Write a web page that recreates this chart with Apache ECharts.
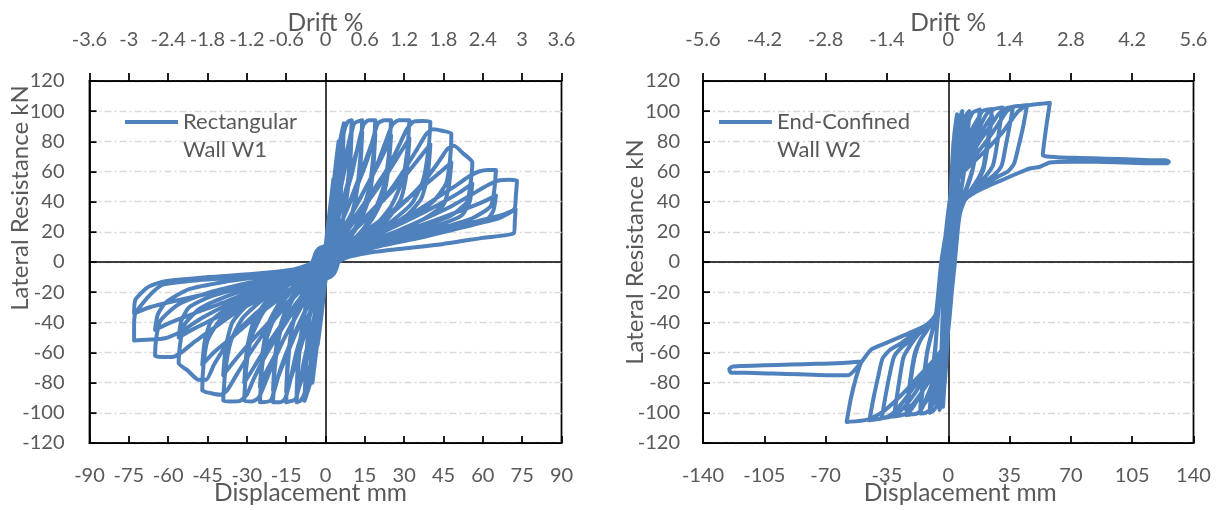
<!DOCTYPE html>
<html><head><meta charset="utf-8">
<script src="https://cdn.jsdelivr.net/npm/echarts@6/dist/echarts.min.js"></script>
<style>html,body{margin:0;padding:0;background:#fff}#c{width:1220px;height:510px}</style>
</head><body><div id="c"></div>
<script>
// ---- axis ranges / tick steps ----
const forceRange = [-120, 120, 20];
const dispRangeW1 = [-90, 90, 15];
const driftRangeW1 = [-3.6, 3.6, 0.6];
const dispRangeW2 = [-140, 140, 35];
const driftRangeW2 = [-5.6, 5.6, 1.4];
const seriesNames = ['Rectangular Wall W1', 'End-Confined Wall W2'];
const legendLabels = ['\nRectangular\nWall W1', '\nEnd-Confined\nWall W2'];

// ---- W1 hysteresis: [displacement mm, lateral resistance kN] ----
const w1Curve = [
[0,0],[0.7,15],[1.5,30],[1.3,18],[0.8,4],[0.5,0],[-0.2,-12],[-0.8,-22],[-1.5,-30],[-1.3,-18],[-0.8,-4],[-0.5,0],
[0,10],[1,25],[2,40],[3,55],[2.7,35],[2,15],[1.2,2],[0.8,0],[0,-12],[-1,-27],[-2,-42],[-3,-55],[-2.7,-35],[-2,-15],[-1.2,-2],[-0.8,0],
[0.3,8],[1.5,28],[3,50],[4,66],[5,80],[4.6,55],[3.8,30],[2.5,10],[1.3,0],[0.2,-10],[-1,-24],[-2.5,-45],[-4,-66],[-5,-80],[-4.6,-55],[-3.8,-30],[-2.5,-10],[-1.3,0],
[0,8],[1.5,25],[3,45],[4.5,66],[5.5,80],[7,92],[6.6,70],[5.8,45],[4.5,22],[3,8],[1.5,0],[0,-10],[-1.5,-25],[-3.2,-45],[-4.8,-66],[-5.8,-80],[-8,-92],[-7.5,-70],[-6.6,-45],[-5,-22],[-3.2,-7],[-1.5,0],
[0,8],[2,25],[4,48],[5.5,68],[7,86],[8.5,93],[10,94],[9.5,75],[8.5,52],[7,32],[5,15],[3,5],[1.5,0],[0,-8],[-2,-25],[-4,-48],[-6,-70],[-8,-87],[-9.5,-92],[-11,-93],[-10.5,-72],[-9.3,-50],[-7.5,-30],[-5,-14],[-3,-4],[-1.5,0],
[0,6],[2,20],[4.5,42],[7,65],[9,80],[10,88],[9.5,68],[8.3,45],[6.5,26],[4.5,12],[2.5,3],[1.2,0],[0,-7],[-2,-20],[-4.5,-42],[-7,-64],[-9.5,-80],[-11,-88],[-10.5,-66],[-9,-44],[-7,-25],[-4.5,-11],[-2.5,-3],[-1.2,0],
[0,7],[2.5,22],[5,42],[7.5,63],[9.5,82],[11,92],[14,94],[13.4,72],[12,48],[9.5,28],[6.5,14],[3.5,5],[1.5,0],[0,-7],[-2.5,-22],[-5,-42],[-8,-64],[-10,-82],[-11.5,-91],[-15,-93],[-14.4,-70],[-13,-46],[-10,-27],[-6.5,-13],[-3.5,-4],[-1.5,0],
[0,5],[3,18],[6,36],[9,56],[12,74],[14,86],[13.3,64],[11.5,42],[9,25],[6,12],[3,4],[1.3,0],[0,-6],[-3,-18],[-6,-36],[-9.5,-57],[-13,-76],[-15,-86],[-14.3,-63],[-12.5,-41],[-9.5,-24],[-6,-11],[-3,-3],[-1.3,0],
[0,7],[3,20],[6.5,38],[10,58],[12.5,78],[14.5,91],[16.5,94],[19,94],[18.3,72],[16.8,50],[13.5,31],[9.5,17],[5,7],[1.8,0],[0,-7],[-3,-20],[-7,-38],[-11,-59],[-13.5,-79],[-15.5,-91],[-17.5,-93],[-20,-93],[-19.3,-70],[-17.5,-48],[-14,-30],[-9.5,-16],[-5,-6],[-1.8,0],
[0,5],[3.5,16],[7.5,32],[11.5,50],[15,66],[19,85],[18.2,62],[16.5,42],[13,26],[8.5,14],[4.5,5],[1.5,0],[0,-5],[-3.5,-16],[-7.5,-32],[-12,-50],[-16,-67],[-20,-85],[-19.2,-62],[-17,-41],[-13.5,-25],[-8.5,-13],[-4.5,-4],[-1.5,0],
[-1,7],[4,19],[8,34],[12,50],[16,68],[18.5,84],[20,92],[22.5,94],[25,94],[24.2,72],[22.5,52],[19,35],[14,21],[8,10],[5,4],[3,0],[1,-8],[-4,-19],[-8.5,-35],[-13,-52],[-17,-70],[-19.5,-85],[-21,-92],[-25,-93],[-24.2,-70],[-22.3,-50],[-18.5,-33],[-13.5,-20],[-8,-10],[-5,-4],[-3,0],
[-1,7],[4.5,16],[9,29],[14,45],[19,61],[23,75],[25,84],[24,62],[22,43],[18,29],[12.5,17],[7,8],[4.5,3],[3,0],[1,-8],[-4.5,-16],[-9,-29],[-14,-45],[-19,-61],[-23,-74],[-25,-83],[-24,-60],[-21.8,-41],[-17.5,-27],[-12,-16],[-6.5,-7],[-4.5,-3],[-3,0],
[-1,8],[5,18],[10,32],[15,48],[19.5,64],[23,80],[25.5,91],[28,94],[32,94],[31.2,74],[29.3,54],[25,37],[19,24],[12,13],[6,5],[3.5,0],[1.5,-8],[-5,-18],[-10,-32],[-15,-48],[-19.5,-65],[-23,-80],[-25.5,-90],[-28,-92.5],[-31,-92],[-30.2,-70],[-28.3,-50],[-24,-34],[-18,-21],[-11,-11],[-6,-5],[-3.5,0],
[-1.5,8],[5.5,15],[11,27],[17,42],[23,57],[28,71],[32,82],[31,60],[28.8,42],[24,29],[17,18],[10,10],[5.5,4],[3.5,0],[1.5,-8],[-5.5,-15],[-11,-27],[-17,-42],[-22.5,-56],[-27,-69],[-31,-80],[-30,-58],[-27.5,-40],[-23,-27],[-16,-17],[-9,-8],[-5.5,-4],[-3.5,0],
[-1.5,8],[6,18],[12,32],[18,47],[24,63],[28,77],[31,88],[33.5,93],[37,93.5],[40,93],[39.2,74],[37.2,54],[33,39],[26,28],[18,18],[10,10],[6,5],[4,0],[2,-9],[-6,-18],[-12,-32],[-18,-48],[-23.5,-64],[-27.5,-78],[-30,-88],[-32.5,-92],[-36,-92.5],[-39,-92],[-38.2,-72],[-36,-52],[-31.5,-37],[-24,-25],[-16,-16],[-8,-9],[-5.5,-4],[-4,0],
[-2,9],[7,15],[14,26],[21,39],[28,52],[34,65],[40,78],[39,58],[36.5,42],[31,31],[23,22],[14,13],[7,6],[4,0],[2,-9],[-7,-15],[-14,-26],[-21,-39],[-28,-52],[-34,-64],[-39,-75],[-38,-56],[-35.5,-40],[-30,-29],[-21,-19],[-12,-11],[-6,-5],[-4,0],
[-2,9],[8,17],[16,31],[24,46],[30,61],[35,75],[38.5,85],[41,88],[44.5,87],[48,85],[47.5,68],[46,52],[41,40],[33,30],[24,22],[14,13],[7,6],[4.5,0],[2.5,-9],[-8,-17],[-16,-31],[-23,-46],[-29,-61],[-34,-75],[-37.5,-85],[-40,-88],[-43.5,-87],[-47,-85],[-46.5,-68],[-45,-52],[-40,-38],[-31,-27],[-21,-18],[-11,-10],[-6,-4],[-4.5,0],
[-2.5,9],[9,14],[18,24],[27,36],[35,47],[42,57],[48,66],[47,50],[45,38],[38,29],[28,21],[17,13],[8,6],[4.5,0],[2.5,-9],[-9,-14],[-18,-25],[-27,-37],[-35,-49],[-42,-59],[-47,-68],[-46,-52],[-43.5,-39],[-36,-29],[-25,-20],[-14,-12],[-6.5,-4],[-4.5,0],
[-2.5,9],[10,15],[20,25],[29,38],[37,52],[43,66],[46.5,75],[49,77],[52.5,72],[56,66],[55.3,52],[54,40],[48,31],[38,24],[27,18],[15,11],[7,5],[4.5,0],[2.5,-9],[-10,-15],[-20,-25],[-29,-38],[-37,-53],[-42.5,-68],[-45.5,-78],[-48.5,-78],[-52.5,-72],[-56,-67],[-55.4,-54],[-54,-42],[-48,-31],[-38,-23],[-26,-16],[-14,-10],[-6.5,-4],[-4.5,0],
[-2.5,8],[11,12],[22,20],[33,29],[43,38],[51,46],[56,52],[55,40],[52,31],[44,25],[32,19],[19,12],[9,6],[5,0],[3,-8],[-11,-12],[-22,-20],[-33,-29],[-43,-38],[-51,-45],[-56,-50],[-55,-39],[-52,-30],[-44,-23],[-32,-17],[-19,-11],[-8,-5],[-5,0],
[-3,8],[11,13],[22,22],[33,32],[42,42],[50,51],[55,57],[58.5,60],[62,61],[65,61],[64.4,48],[63,37],[56,29],[45,23],[32,17],[19,11],[9,5],[5,0],[3,-8],[-11,-13],[-22,-22],[-33,-32],[-42,-43],[-50,-53],[-55,-60],[-58.5,-63],[-62,-63],[-65,-62],[-64.5,-50],[-63,-39],[-56,-28],[-44,-20],[-30,-14],[-16,-9],[-7.5,-4],[-5,0],
[-3,8],[13,11],[26,18],[39,26],[50,33],[59,39],[65,44],[64,34],[61,27],[50,22],[36,16],[22,11],[10,5],[5,0],[3,-8],[-13,-11],[-26,-18],[-39,-27],[-50,-34],[-59,-40],[-65,-45],[-64,-35],[-61,-27],[-52,-18],[-38,-13],[-22,-9],[-10,-4],[-5,0],
[-3,8],[12,12],[25,19],[37,28],[48,37],[56,45],[62,51],[66,54],[70,54.5],[73,54],[72.6,44],[72,35],[66,29],[54,24],[40,18],[26,13],[13,8],[7,3],[5,0],[3,-8],[-12,-12],[-25,-19],[-37,-28],[-47,-37],[-55,-46],[-60,-50],[-63,-51],[-68,-51.5],[-73,-52],[-73,-43],[-72.5,-34],[-67,-22],[-62,-15],[-48,-12],[-32,-10],[-16,-7],[-8,-4],[-5,0],
[-3,7],[15,10],[30,15],[45,21],[58,27],[67,31],[72.5,35],[72.2,27],[71.8,19],[60,16],[45,12],[30,9],[16,6],[8,3],[5,0],[3,-7],[-15,-10],[-30,-15],[-45,-21],[-58,-26],[-67,-30],[-73,-34],[-72.5,-25],[-68,-17],[-62,-13],[-45,-10],[-28,-8],[-12,-5],[-5,-2],[-3,0],[0,0]
];

// ---- W2 hysteresis: [displacement mm, lateral resistance kN] ----
const w2Curve = [
[0,0],[0.5,20],[1,35],[1.5,45],[1.2,25],[0.6,5],[0.3,0],[0,-15],[-0.5,-32],[-1,-45],[-0.8,-25],[-0.4,-5],[-0.2,0],
[0.5,22],[1.5,50],[3,80],[2.6,55],[1.8,25],[1,5],[0.6,0],[0,-20],[-1,-50],[-2,-80],[-1.7,-55],[-1.1,-25],[-0.6,-5],[-0.4,0],
[0.5,25],[2,60],[3.5,85],[5,98],[4.5,75],[3.5,45],[2.3,20],[1.2,0],[0.3,-22],[-0.8,-50],[-2,-78],[-3,-96],[-2.6,-70],[-2,-45],[-1.4,-20],[-0.8,0],
[0,20],[1.5,50],[3.5,78],[5.5,92],[8,100],[7,82],[5.8,60],[4.5,38],[3,14],[1.8,0],[0.8,-25],[-0.5,-55],[-2,-80],[-3.5,-93],[-5,-98],[-4.3,-76],[-3.6,-52],[-3,-28],[-2,-8],[-1.5,0],
[0,18],[1.5,45],[3.5,72],[6,90],[8,97],[7,78],[5.8,56],[4.3,34],[2.8,10],[1.8,0],[0.7,-25],[-0.6,-55],[-2.2,-80],[-3.8,-92],[-5,-95],[-4.3,-72],[-3.6,-50],[-3,-26],[-2,-8],[-1.5,0],
[0,18],[1.5,42],[3.5,62],[6,78],[8.5,92],[10.5,98],[12,100],[11,86],[10,72],[9,60],[7.3,48],[6,36],[4.5,20],[3,6],[2,0],[1,-22],[-0.5,-50],[-2,-70],[-4,-84],[-6,-94],[-8.5,-98.5],[-10.5,-100],[-9.5,-86],[-8.5,-72],[-7.5,-60],[-6.5,-44],[-5.5,-30],[-4,-12],[-2.8,0],
[-1,18],[1,40],[3.5,60],[6,75],[9,88],[12,97],[11,83],[9.8,68],[8.7,57],[7,45],[5.5,33],[4,16],[2.7,4],[2,0],[1,-22],[-0.5,-48],[-2.2,-68],[-4.5,-82],[-7,-91],[-10.5,-97],[-9.5,-82],[-8.4,-67],[-7.3,-55],[-6.2,-40],[-5.2,-27],[-3.8,-10],[-2.8,0],
[-1.5,18],[0.5,38],[3,56],[6,70],[9,83],[11.5,93],[14,99],[18,101],[16.8,87],[15.3,72],[14,62],[11.5,53],[9,45],[7,38],[5.5,27],[4,12],[3,0],[1.5,-20],[0,-45],[-2.5,-65],[-5.5,-79],[-8,-90],[-10.5,-98],[-13,-100],[-16,-100.5],[-14.8,-87],[-13.3,-72],[-12,-60],[-10,-50],[-8,-41],[-6.5,-33],[-5,-17],[-3.5,0],
[-1.5,16],[0.5,35],[3,52],[6.5,66],[10,78],[14,89],[18,97],[16.8,83],[15.2,69],[13.5,59],[11,50],[8.5,43],[6.5,36],[5,24],[3.5,8],[3,0],[1.5,-20],[0,-44],[-2.5,-62],[-6,-76],[-9.5,-86],[-13,-93],[-16,-97],[-14.8,-83],[-13.2,-69],[-11.8,-58],[-9.5,-47],[-7.5,-39],[-6,-30],[-4.7,-14],[-3.5,0],
[-1.5,18],[0.5,38],[3,54],[7,66],[11,76],[14.5,86],[17,95],[19.5,100],[22,101],[25,101.5],[23.5,88],[21.5,73],[20,63],[17,55],[13,48],[9.5,42],[7.5,37],[5.8,26],[4.2,10],[3.3,0],[1.8,-20],[0,-45],[-2.5,-62],[-6,-73],[-10,-83],[-13,-92],[-15.5,-98],[-18,-100.5],[-21,-101],[-24,-101.5],[-22.5,-88],[-20.7,-73],[-19,-62],[-16,-52],[-12,-45],[-8.5,-39],[-6.7,-34],[-5.3,-18],[-3.8,0],
[-1.5,15],[0.5,35],[3,50],[7.5,62],[12,72],[17,82],[21.5,91],[25,97],[23.5,84],[21.6,70],[20,61],[16.5,53],[12.5,46],[9,40],[7,34],[5.4,22],[4,6],[3.3,0],[1.8,-20],[0,-43],[-2.5,-60],[-6.5,-70],[-11,-79],[-15.5,-87],[-20,-94],[-24,-98],[-22.5,-85],[-20.8,-71],[-19,-60],[-15.5,-51],[-11.5,-44],[-8.3,-38],[-6.5,-32],[-5.2,-16],[-3.8,0],
[-1.5,18],[0.5,38],[3,53],[7,64],[12,74],[16,84],[19.5,93],[22.5,99],[26.5,101.5],[31,102.5],[29.3,89],[27.3,74],[25.5,64],[21.5,57],[17,51],[12,45],[8.5,40],[7,35],[5.5,22],[4.3,7],[3.5,0],[2,-20],[0,-45],[-2.8,-60],[-7,-70],[-12,-79],[-16,-88],[-19.5,-95],[-22.5,-99.5],[-26.5,-101.5],[-31,-102.5],[-29.3,-89],[-27.3,-74],[-25.5,-63],[-21.5,-55],[-17,-48],[-12,-43],[-8.5,-38],[-6.7,-33],[-5.4,-18],[-4,0],
[-1.5,18],[0.5,38],[3,52],[8,63],[14,73],[19,82],[24,90],[28,97],[32,101.5],[37,103],[35,90],[32.5,75],[30.5,64],[26.5,58],[21,53],[16,47],[11,43],[8,38],[6.5,32],[5,18],[3.8,3],[3.5,0],[2,-20],[0,-45],[-3,-60],[-8,-69],[-14,-78],[-19,-87],[-23.5,-94],[-28,-99.5],[-32.5,-102.5],[-38,-103.5],[-36,-90],[-33.5,-75],[-31,-63],[-27,-57],[-21.5,-52],[-16,-46],[-11,-42],[-8,-37],[-6.7,-33],[-5.4,-18],[-4,0],
[-1.5,17],[0.5,37],[3,51],[8,61],[15,70],[21,79],[26,87],[30,94],[33.5,100],[37.5,103],[41,103.5],[45,104],[42.8,90],[40,76],[37.5,65],[34,60],[29,57],[22,52],[15,46],[10,42],[7.5,37],[6,30],[4.7,15],[3.7,0],[2,-20],[0,-44],[-3,-58],[-8.5,-67],[-15,-76],[-21,-85],[-26,-93],[-30.5,-99],[-34.5,-102.5],[-39,-104],[-45,-105],
[-42.8,-91],[-40,-76],[-37.5,-64],[-33,-58],[-27,-54],[-20,-48],[-13,-43],[-9,-38],[-7,-34],[-5.5,-18],[-4,0],
[-1.5,17],[0.5,36],[3,50],[9,60],[16,68],[24,77],[31,86],[36,94],[40,100],[44.5,103.5],[50,104.5],[54,105],[58,105.5],[56,90],[54,71],[62,69.5],[75,69],[90,68.5],[105,68],[118,67.5],[124,67.5],[126,66.5],[125,65.5],[115,65.5],[100,66],[85,66.5],[70,66.5],[58,66],[52,63],[46.5,62],[38,58],[30,54],[22,50],[15,46],[10,42],[8,37],[6.2,30],[4.8,15],[3.8,0],[2,-20],[0,-44],[-3,-57],[-9,-66],[-17,-76],[-24,-85],[-31,-93],[-37,-99],[-42,-102.5],[-46,-104.5],[-52,-105.5],[-58,-106],
[-55.5,-90],[-52.5,-76],[-50.5,-69],[-49.5,-66],[-60,-67],[-75,-67.5],[-90,-68],[-105,-68.5],[-118,-69],[-123.5,-69.5],[-125,-71],[-124,-73.5],[-115,-73.5],[-100,-74],[-85,-74.5],[-70,-75],[-57,-75],[-50,-67],[-44,-58],[-36,-54],[-28,-50],[-20,-46],[-13,-42],[-9,-38],[-7,-34],[-5.5,-18],[-4,-5],[-3,0]
];

const FONT = 'Lato';
const GREY = '#595959';
const BLUE = '#4F81BD';
const BOX_W = 1.75;
const TICK_FS = 20;
const TITLE_FS = 24.5;
const YTITLE_FS = 24;

function txt(size, extra) { return Object.assign({ color: GREY, fontFamily: FONT, fontSize: size }, extra || {}); }

function bottomAxis(gi, r, namePad) {
  return { type: 'value', gridIndex: gi, position: 'bottom', min: r[0], max: r[1], interval: r[2],
    axisLine: { onZero: false, lineStyle: { color: '#000', width: BOX_W } },
    axisTick: { inside: true, length: 7, lineStyle: { color: '#000', width: BOX_W } },
    axisLabel: txt(TICK_FS, { margin: 23, showMinLabel: true, showMaxLabel: true }),
    splitLine: { show: false },
    name: 'Displacement mm', nameLocation: 'middle', nameGap: 38, nameMoveOverlap: false,
    nameTextStyle: txt(TITLE_FS, { padding: namePad }) };
}
function topAxis(gi, r) {
  return { type: 'value', gridIndex: gi, position: 'top', min: r[0], max: r[1], interval: r[2],
    axisLine: { onZero: false, lineStyle: { color: '#000', width: BOX_W } },
    axisTick: { inside: false, length: 8, lineStyle: { color: '#000', width: BOX_W } },
    axisLabel: txt(TICK_FS, { margin: 31, showMinLabel: true, showMaxLabel: true }),
    splitLine: { show: false },
    name: 'Drift %', nameLocation: 'middle', nameGap: 45, nameMoveOverlap: false,
    nameTextStyle: txt(TITLE_FS) };
}
function zeroXAxis(gi, r) {
  return { type: 'value', gridIndex: gi, position: 'bottom', min: r[0], max: r[1], interval: r[2],
    axisLine: { onZero: true, lineStyle: { color: '#000', width: 1.5 } },
    axisTick: { show: false }, axisLabel: { show: false }, splitLine: { show: false } };
}
function leftAxis(gi, margin, gap, namePad) {
  return { type: 'value', gridIndex: gi, position: 'left', min: forceRange[0], max: forceRange[1], interval: forceRange[2],
    axisLine: { onZero: false, lineStyle: { color: '#000', width: BOX_W } },
    axisTick: { inside: true, length: 7, lineStyle: { color: '#000', width: BOX_W } },
    axisLabel: txt(TICK_FS, { margin: margin, showMinLabel: true, showMaxLabel: true }),
    splitLine: { show: true, lineStyle: { color: '#D9D9D9', width: 1.3, type: [7, 3, 2, 3] } },
    name: 'Lateral Resistance kN', nameLocation: 'middle', nameGap: gap, nameMoveOverlap: false,
    nameTextStyle: txt(YTITLE_FS, { padding: namePad }) };
}
function zeroYAxis(gi) {
  return { type: 'value', gridIndex: gi, position: 'left', min: forceRange[0], max: forceRange[1], interval: forceRange[2],
    axisLine: { onZero: true, lineStyle: { color: '#000', width: 1.5 } },
    axisTick: { show: false }, axisLabel: { show: false }, splitLine: { show: false } };
}
function legend(i, left) {
  return { data: [seriesNames[i]], left: left, top: 80, padding: 0, orient: 'vertical',
    icon: 'rect', itemWidth: 53, itemHeight: 4, selectedMode: false,
    itemStyle: { color: BLUE, borderWidth: 0 },
    formatter: function (n) { return legendLabels[seriesNames.indexOf(n)]; },
    textStyle: txt(22, { lineHeight: 28 }) };
}
function curve(i, data, xi, yi) {
  return { type: 'line', name: seriesNames[i], xAxisIndex: xi, yAxisIndex: yi, data: data,
    showSymbol: false, symbol: 'none', smooth: 0.2, z: 3,
    lineStyle: { color: BLUE, width: 4, join: 'round', cap: 'round' }, itemStyle: { color: BLUE } };
}

const gridBase = { show: true, borderColor: '#000', borderWidth: BOX_W, backgroundColor: 'transparent', containLabel: false, outerBoundsMode: 'none' };

const chart = echarts.init(document.getElementById('c'), null, { renderer: 'canvas' });
chart.setOption({
  animation: false,
  backgroundColor: '#fff',
  grid: [
    Object.assign({ left: 89.5, top: 81, width: 472, height: 362 }, gridBase),
    Object.assign({ left: 703, top: 81, width: 490.5, height: 362 }, gridBase)
  ],
  xAxis: [
    bottomAxis(0, dispRangeW1, [0, 30, 0, 0]), topAxis(0, driftRangeW1), zeroXAxis(0, dispRangeW1),
    bottomAxis(1, dispRangeW2, [0, 0, 0, 24]), topAxis(1, driftRangeW2), zeroXAxis(1, dispRangeW2)
  ],
  yAxis: [
    leftAxis(0, 25, 57, [0, 0, 0, 128]), zeroYAxis(0),
    leftAxis(1, 23, 56, [0, 0, 0, 20]), zeroYAxis(1)
  ],
  legend: [legend(0, 125), legend(1, 719)],
  series: [curve(0, w1Curve, 0, 0), curve(1, w2Curve, 3, 2)]
});
</script></body></html>
